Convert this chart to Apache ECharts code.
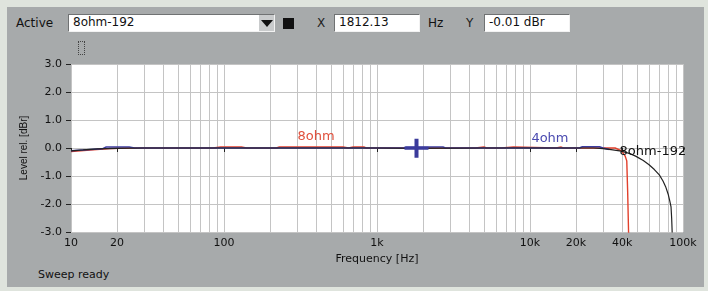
<!DOCTYPE html>
<html><head><meta charset="utf-8">
<script src="https://cdn.jsdelivr.net/npm/echarts@6/dist/echarts.min.js"></script>
<style>
html,body{margin:0;padding:0;width:708px;height:291px;overflow:hidden;background:#dfe4dd;font-family:"DejaVu Sans",sans-serif;}
#panel{position:absolute;left:7px;top:7px;width:697px;height:280px;background:#a7aaab;}
#chart{position:absolute;left:0;top:0;width:708px;height:291px;}
.t{position:absolute;font-size:12px;color:#111;line-height:16px;white-space:nowrap;}
.box{position:absolute;background:#fff;border:1px solid;border-color:#707273 #f2f2f2 #f2f2f2 #707273;font-size:12px;line-height:15px;padding-left:4px;box-sizing:border-box;color:#111;white-space:nowrap;}
</style></head><body>
<div id="panel"></div>
<div class="t" style="left:16px;top:15px">Active</div>
<div class="box" style="left:68px;top:14px;width:207px;height:18px">8ohm-192</div>
<div style="position:absolute;left:259px;top:15px;width:15px;height:16px;background:#c9cbcc;"></div>
<div style="position:absolute;left:261px;top:20px;width:0;height:0;border-left:6px solid transparent;border-right:6px solid transparent;border-top:7px solid #111;"></div>
<div style="position:absolute;left:283px;top:18px;width:11px;height:11px;background:#111;"></div>
<div class="t" style="left:317px;top:15px;color:#222">X</div>
<div class="box" style="left:334px;top:14px;width:86px;height:18px">1812.13</div>
<div class="t" style="left:428px;top:15px">Hz</div>
<div class="t" style="left:466px;top:15px;color:#222">Y</div>
<div class="box" style="left:484px;top:14px;width:86px;height:18px">-0.01 dBr</div>
<div style="position:absolute;left:78px;top:41px;width:5px;height:12px;border:1px dotted #444;"></div>
<div class="t" style="left:38px;top:267px;font-size:11px">Sweep ready</div>
<div id="chart"></div>
<script>
// ---- data ----
const freq8ohm = [10, 14, 18, 25, 85, 95, 130, 140, 220, 230, 600, 650, 700, 820, 850, 4400, 4500, 5000, 5200, 6500, 6600, 7800, 8000, 14800, 15000, 16000, 16500, 36000, 39700, 41800, 42900, 43400, 43500, 44100, 44200];
const lvl8ohm  = [-0.13, -0.06, -0.02, 0, 0, 0.035, 0.035, 0, 0, 0.035, 0.035, 0, 0.035, 0.035, 0, 0, 0.035, 0.035, 0, 0, 0.035, 0.035, 0, 0, 0.035, 0.035, 0, 0, -0.1, -0.28, -0.46, -0.5, -1.6, -1.65, -3.3];

const freq4ohm = [10, 16, 17, 24, 26, 1500, 1550, 2700, 2800, 21000, 22000, 28500, 30000, 33000];
const lvl4ohm  = [-0.1, -0.03, 0.035, 0.035, 0, 0, 0.035, 0.035, 0, 0, 0.045, 0.045, 0.0, -0.05];

const freq192 = [10, 12, 15, 20, 30, 100, 1000, 1812.13, 5000, 10000, 20000, 26000, 30000, 33000, 39500, 45000, 49000, 55000, 60000, 65000, 70000, 74000, 77000, 80000, 82000, 83500, 84300, 84700, 85000];
const lvl192  = [-0.1, -0.07, -0.03, -0.01, 0, 0, 0, -0.01, 0, 0, 0, 0, -0.02, -0.05, -0.11, -0.2, -0.29, -0.45, -0.6, -0.77, -0.96, -1.18, -1.38, -1.65, -1.9, -2.1, -2.5, -2.8, -3.05];

const cursorPoint = [1812.13, -0.01];
const xTickValues = [10, 20, 100, 1000, 10000, 20000, 40000, 100000];
const yTickLabels = ['-3.0', '-2.0', '-1.0', '0.0', '1.0', '2.0', '3.0'];
const seriesNames = ['8ohm', '4ohm', '8ohm-192'];

// grid line frequencies: 1..9 x decade
const gridFreqs = [];
for (let e = 1; e <= 4; e++) for (let m = 1; m <= 9; m++) gridFreqs.push(m * Math.pow(10, e));
gridFreqs.push(100000);

const zip = (xs, ys) => xs.map((x, i) => [x, ys[i]]);
const fmtHz = v => v >= 1000 ? Math.round(v / 1000) + 'k' : String(Math.round(v));

const chart = echarts.init(document.getElementById('chart'), null, {renderer: 'canvas'});
const txt = {fontFamily: 'DejaVu Sans', color: '#111'};
chart.setOption({
  backgroundColor: 'transparent',
  animation: false,
  grid: {left: 71, right: 25, top: 64, bottom: 59, show: true, backgroundColor: '#ffffff', borderWidth: 0},
  xAxis: [{
    type: 'log', logBase: 10, min: 10, max: 100000, position: 'bottom',
    axisLine: {show: false},
    axisTick: {show: true, length: 4, customValues: xTickValues, lineStyle: {color: '#222'}},
    axisLabel: {customValues: xTickValues, formatter: fmtHz, margin: 6, fontSize: 11, ...txt},
    splitLine: {show: false},
    name: 'Frequency [Hz]', nameLocation: 'middle', nameGap: 18,
    nameTextStyle: {fontSize: 11, verticalAlign: 'top', ...txt}
  }, {
    type: 'log', logBase: 10, min: 10, max: 100000, position: 'bottom',
    axisLine: {show: false},
    axisTick: {show: false, customValues: gridFreqs},
    axisLabel: {show: false},
    splitLine: {show: true, lineStyle: {color: '#c4c4c4', width: 1}}
  }],
  yAxis: {
    type: 'value', min: -3, max: 3, interval: 1,
    axisLine: {show: false},
    axisTick: {show: true, length: 5, lineStyle: {color: '#222'}},
    axisLabel: {formatter: v => yTickLabels[Math.round(v) + 3], margin: 9, fontSize: 11, ...txt},
    splitLine: {show: true, lineStyle: {color: '#c4c4c4', width: 1}},
    name: 'Level rel. [dBr]', nameLocation: 'middle', nameGap: 34,
    nameTextStyle: {fontSize: 10, fontFamily: 'Liberation Sans', color: '#111'}
  },
  series: [{
    name: seriesNames[0], type: 'line', data: zip(freq8ohm, lvl8ohm), symbol: 'none',
    lineStyle: {color: '#e2402c', width: 1.4}, z: 2,
    markPoint: {symbol: 'circle', symbolSize: 0, data: [{coord: [400, 0]}],
      label: {show: true, position: 'top', distance: 5, formatter: seriesNames[0], color: '#e0503c', fontSize: 13, fontFamily: 'DejaVu Sans'}}
  }, {
    name: seriesNames[1], type: 'line', data: zip(freq4ohm, lvl4ohm), symbol: 'none',
    lineStyle: {color: '#3c3ca0', width: 1.5}, z: 3,
    markPoint: {data: [
      {coord: [13500, 0], symbol: 'circle', symbolSize: 0,
        label: {show: true, position: 'top', distance: 3, formatter: seriesNames[1], color: '#4a4ab0', fontSize: 13, fontFamily: 'DejaVu Sans'}},
      {coord: cursorPoint, symbol: 'path://M0 8H10V0H14V8H24V11H14V19H10V11H0Z', symbolSize: [24, 19],
        symbolKeepAspect: false, itemStyle: {color: '#3b3b9b'}, label: {show: false}}
    ]}
  }, {
    name: seriesNames[2], type: 'line', data: zip(freq192, lvl192), symbol: 'none',
    lineStyle: {color: '#222222', width: 1.2}, z: 4,
    markPoint: {symbol: 'circle', symbolSize: 0, data: [{coord: [38500, -0.13]}],
      label: {show: true, position: 'right', distance: 0, formatter: seriesNames[2], color: '#111', fontSize: 13, fontFamily: 'DejaVu Sans'}}
  }]
});
</script>
</body></html>
